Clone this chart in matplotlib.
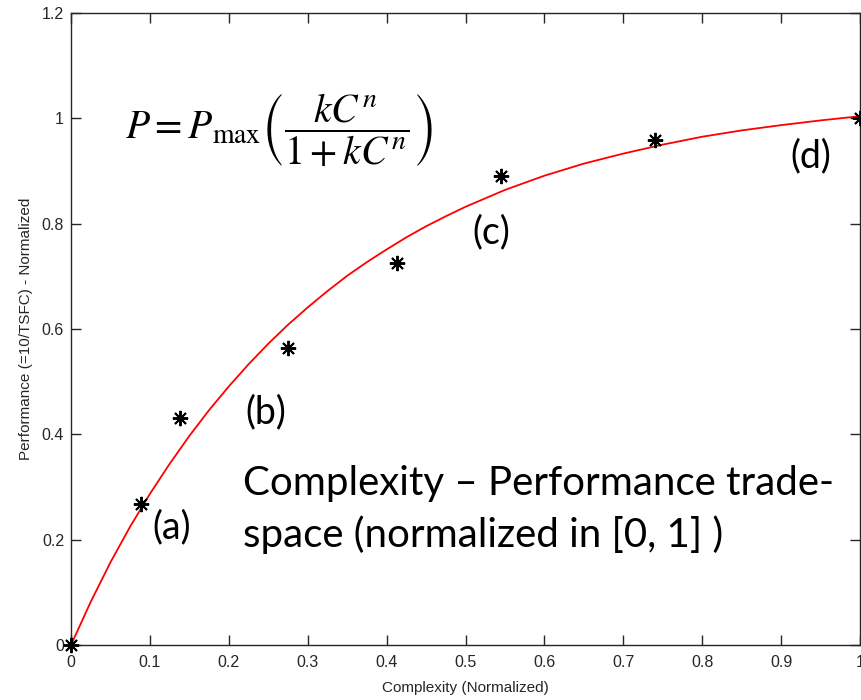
import matplotlib.pyplot as plt

# measured points (normalized complexity vs normalized performance)
complexity = [0.0, 0.089, 0.138, 0.275, 0.413, 0.545, 0.740, 1.0]
performance = [0.0, 0.268, 0.431, 0.564, 0.725, 0.890, 0.959, 1.0]

# fitted trend curve
curve_x = [0.0, 0.025, 0.05, 0.075, 0.1, 0.125, 0.15, 0.175, 0.2, 0.225, 0.25,
           0.275, 0.3, 0.325, 0.35, 0.375, 0.4, 0.425, 0.45, 0.475, 0.5,
           0.55, 0.6, 0.65, 0.7, 0.75, 0.8, 0.85, 0.9, 0.95, 1.0]
curve_y = [0.0, 0.082, 0.157, 0.225, 0.287, 0.344, 0.397, 0.446, 0.491, 0.533, 0.572,
           0.608, 0.641, 0.672, 0.701, 0.727, 0.751, 0.774, 0.795, 0.814, 0.832,
           0.864, 0.891, 0.914, 0.933, 0.950, 0.965, 0.977, 0.987, 0.996, 1.004]

# case labels and where they sit
labels = ['(a)', '(b)', '(c)', '(d)']
label_x = [0.128, 0.247, 0.533, 0.937]
label_y = [0.224, 0.442, 0.784, 0.927]

xticks = [0, 0.1, 0.2, 0.3, 0.4, 0.5, 0.6, 0.7, 0.8, 0.9, 1]
yticks = [0, 0.2, 0.4, 0.6, 0.8, 1, 1.2]

plt.rcParams['mathtext.fontset'] = 'stix'
plt.rcParams['font.family'] = ['Liberation Sans', 'DejaVu Sans']

fig = plt.figure(figsize=(8.61, 7.0), dpi=100)
ax = fig.add_axes([0.0825, 0.0786, 0.9164, 0.9029])

ax.plot(curve_x, curve_y, color='red', linewidth=1.3, zorder=2)
ax.plot(complexity, performance, linestyle='none', marker=(8, 2, 0), markersize=11,
        markeredgewidth=1.4, color='black', zorder=3, clip_on=False)

ax.set_xlim(0, 1)
ax.set_ylim(0, 1.2)
ax.set_xticks(xticks)
ax.set_yticks(yticks)
ax.set_xticklabels([str(t) for t in xticks])
ax.set_yticklabels([str(t) for t in yticks])
ax.tick_params(direction='in', length=7, width=1, top=True, right=True,
               labelsize=11.5, colors='#262626')
ax.tick_params(axis='x', pad=7)
ax.tick_params(axis='y', pad=5)
for s in ax.spines.values():
    s.set_color('#262626')
    s.set_linewidth(1.0)

ax.set_xlabel('Complexity (Normalized)', fontsize=11, color='#262626', labelpad=8)
ax.set_ylabel('Performance (=10/TSFC) - Normalized', fontsize=11, color='#262626', labelpad=6)

for lab, lx, ly in zip(labels, label_x, label_y):
    ax.text(lx, ly, lab, fontsize=27, family=['Lato', 'DejaVu Sans'],
            ha='center', va='center', color='black')

ax.text(0.218, 0.186, 'Complexity \u2013 Performance trade-\nspace (normalized in [0, 1] )',
        fontsize=29, family=['Lato', 'DejaVu Sans'], ha='left', va='baseline',
        linespacing=1.42, color='black')

ax.text(0.263, 0.978, r'$P = P_{\mathrm{max}}\left(\dfrac{kC^n}{1+kC^n}\right)$',
        fontsize=28.5, ha='center', va='center', color='black')

fig.savefig('out.png', dpi=100)
